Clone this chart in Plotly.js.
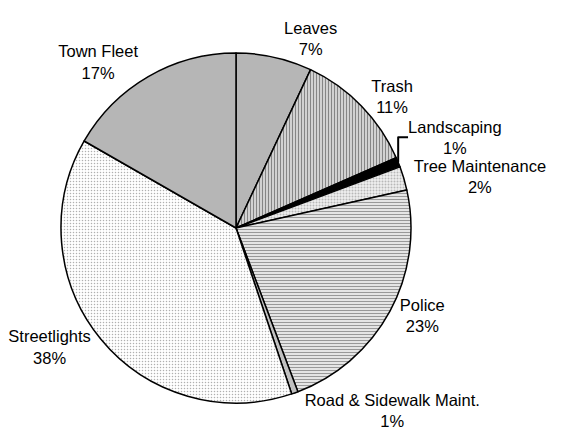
<!DOCTYPE html>
<html><head><meta charset="utf-8">
<script src="https://cdn.plot.ly/plotly-3.0.1.min.js"></script>
<style>html,body{margin:0;padding:0;background:#fff;}</style>
</head><body><div id="chart" style="width:568px;height:442px;"></div>
<script>
const categories = ["Leaves", "Trash", "Landscaping", "Tree Maintenance", "Police", "Road & Sidewalk Maint.", "Streetlights", "Town Fleet"];
const shares = [7.0, 11.4, 0.9, 2.2, 22.7, 0.6, 38.4, 16.7];

const patternShapes = [".", "|", "", ".", "-", "", ".", "."];
const bgColors = ["#cccccc", "#dadada", "#000000", "#f0f0f0", "#ffffff", "#c0c0c0", "#ffffff", "#cccccc"];
const fgColors = ["#9a9a9a", "#858585", "#000000", "#b8b8b8", "#999999", "#c0c0c0", "#b0b0b0", "#9a9a9a"];
const patternSizes = [2, 3, 3, 3, 3, 3, 3, 2];
const patternSolidity = [0.5, 0.4, 0.3, 0.35, 0.5, 0.3, 0.2, 0.5];

const trace = {
  type: "pie",
  labels: categories,
  values: shares,
  sort: false,
  direction: "clockwise",
  rotation: 0,
  textposition: "outside",
  texttemplate: "%{label}<br>%{percent:.0%}",
  textfont: {family: "Liberation Sans, Arial, sans-serif", size: 16.5, color: "#000"},
  hoverinfo: "none",
  showlegend: false,
  marker: {
    colors: bgColors,
    line: {color: "#000", width: 1.5},
    pattern: {
      shape: patternShapes,
      bgcolor: bgColors,
      fgcolor: fgColors,
      size: patternSizes,
      solidity: patternSolidity,
      fillmode: "replace"
    }
  },
  domain: {x: [0, 1], y: [0, 1]}
};

const layout = {
  width: 568, height: 442,
  margin: {l: 61, r: 157, t: 53, b: 39},
  paper_bgcolor: "#fff",
  plot_bgcolor: "#fff",
  showlegend: false
};

Plotly.newPlot("chart", [trace], layout, {displayModeBar: false, staticPlot: true});
</script></body></html>
